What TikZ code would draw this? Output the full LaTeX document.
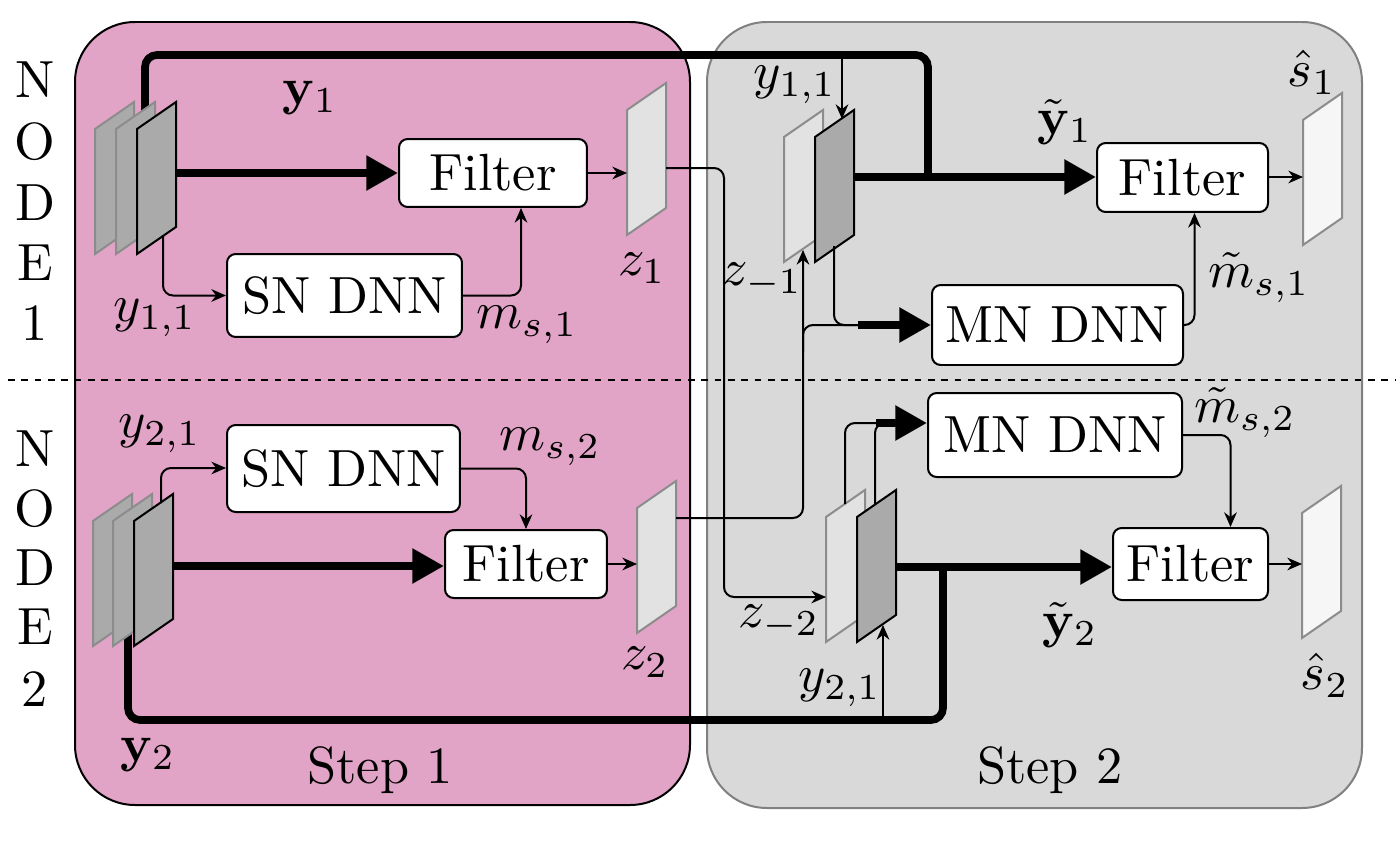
\documentclass[tikz,border=0pt]{standalone}
\usepackage{amsmath}
\usepackage{graphicx}
\usetikzlibrary{arrows.meta,calc}
\definecolor{pinkbg}{RGB}{226,164,198}
\definecolor{graybg}{RGB}{217,217,217}
\definecolor{grayedge}{RGB}{128,128,128}
\definecolor{sheetdark}{RGB}{170,170,170}
\definecolor{sheetlight}{RGB}{226,226,226}
\definecolor{sheetwhite}{RGB}{246,246,246}
\definecolor{sheetedge}{RGB}{140,140,140}
\newcommand\pgsheet[3]{% style, x, y of top-left corner
  \draw[#1] (#2,#3+125) -- (#2,#3) -- (#2+39,#3-27) -- (#2+39,#3+98) -- cycle;
}
\newcommand\tx[1]{\scalebox{1.57}{#1}}
\begin{document}
\begin{tikzpicture}[x=0.3pt,y=-0.3pt,
  font=\fontsize{10}{12}\selectfont,
  box/.style={draw, rounded corners=2.6pt, fill=white, line width=0.6pt, inner sep=0pt, align=center},
  thinarr/.style={line width=0.6pt, -{Stealth[length=4.4pt,width=3.8pt]}, rounded corners=3pt},
  thinln/.style={line width=0.6pt, rounded corners=3pt},
  thickln/.style={line width=2.3pt, rounded corners=3.6pt},
  thickarr/.style={line width=2.3pt, -{Triangle[length=9.5pt,width=10pt]}},
  lbl/.style={inner sep=0pt},
  darkback/.style={fill=sheetdark, draw=sheetedge, line width=0.6pt},
  darkfront/.style={fill=sheetdark, draw=black, line width=0.6pt},
  lightsheet/.style={fill=sheetlight, draw=sheetedge, line width=0.6pt},
  whitesheet/.style={fill=sheetwhite, draw=sheetedge, line width=0.6pt}]
\useasboundingbox (0,0) rectangle (1400,841);
% background panels
\draw[fill=pinkbg, draw=black, line width=0.6pt, rounded corners=18pt] (75,22) rectangle (690,805);
\draw[fill=graybg, draw=grayedge, line width=0.6pt, rounded corners=18pt] (707,22) rectangle (1362,808);
\draw[dashed, line width=0.5pt, dash pattern=on 2pt off 2pt] (8,380) -- (1395,380);
% side labels
\node[lbl] (n1a) at (35,80) {\tx{N}};
\node[lbl] (n1b) at (35,142) {\tx{O}};
\node[lbl] (n1c) at (35,203) {\tx{D}};
\node[lbl] (n1d) at (35,263) {\tx{E}};
\node[lbl] (n1e) at (35,323) {\tx{1}};
\node[lbl] (n2a) at (35,449) {\tx{N}};
\node[lbl] (n2b) at (35,509) {\tx{O}};
\node[lbl] (n2c) at (35,568) {\tx{D}};
\node[lbl] (n2d) at (35,627) {\tx{E}};
\node[lbl] (n2e) at (35,689) {\tx{2}};
% coordinates
\coordinate (loopAs) at (145,125);
\coordinate (loopAc1) at (145,55);
\coordinate (loopAc2) at (928,55);
\coordinate (loopAj) at (928,177);
\coordinate (loopBs) at (128,630);
\coordinate (loopBc1) at (128,720);
\coordinate (loopBc2) at (943,720);
\coordinate (loopBj) at (943,567);
% thick loops (under sheets)
\draw[thickln] (loopAs) -- (loopAc1) -- (loopAc2) -- (loopAj);
\draw[thickln] (loopBs) -- (loopBc1) -- (loopBc2) -- (loopBj);
% sheets step 1
\pgsheet{darkback}{95}{129}
\pgsheet{darkback}{116}{129}
\pgsheet{darkfront}{137}{129}
\pgsheet{darkback}{93}{521}
\pgsheet{darkback}{113}{521}
\pgsheet{darkfront}{134}{521}
\pgsheet{lightsheet}{627}{110}
\pgsheet{lightsheet}{637}{508}
% sheets step 2
\pgsheet{lightsheet}{784}{137}
\pgsheet{darkfront}{815}{137}
\pgsheet{lightsheet}{826}{517}
\pgsheet{darkfront}{857}{517}
\pgsheet{whitesheet}{1303}{120}
\pgsheet{whitesheet}{1302}{513}
% boxes
\node[box, minimum width=56.4pt, minimum height=20.4pt] (filA) at (493,173) {\tx{Filter}};
\node[box, minimum width=70.5pt, minimum height=24.9pt] (snA) at (344.5,295.5) {\tx{SN DNN}};
\node[box, minimum width=48.6pt, minimum height=20.4pt] (filB) at (526,564) {\tx{Filter}};
\node[box, minimum width=69.9pt, minimum height=26.1pt] (snB) at (343.5,468.5) {\tx{SN DNN}};
\node[box, minimum width=75.3pt, minimum height=24pt] (mnA) at (1057.5,325) {\tx{MN DNN}};
\node[box, minimum width=76.2pt, minimum height=25.2pt] (mnB) at (1055,435) {\tx{MN DNN}};
\node[box, minimum width=51.3pt, minimum height=20.7pt] (filC) at (1182.5,177.5) {\tx{Filter}};
\node[box, minimum width=46.5pt, minimum height=21.6pt] (filD) at (1190.5,564) {\tx{Filter}};
% sheet anchor coordinates
\coordinate (inAr) at (177,173);
\coordinate (inAb) at (163,235);
\coordinate (zAl) at (627,173);
\coordinate (zAr) at (666,168);
\coordinate (zAc1) at (724,168);
\coordinate (zAc2) at (724,597);
\coordinate (zmBl) at (826,597);
\coordinate (inBr) at (174,566);
\coordinate (inBt) at (161,503);
\coordinate (inBc) at (161,468);
\coordinate (zBl) at (637,564);
\coordinate (zBr) at (676,518);
\coordinate (zBc) at (803,518);
\coordinate (zmAb) at (803,250);
\coordinate (brA) at (803,352);
\coordinate (brAc) at (803,325);
\coordinate (brAe) at (864,325);
\coordinate (yAt) at (842,55);
\coordinate (yAb) at (842,119);
\coordinate (frAb) at (834,246);
\coordinate (frAc) at (834,325);
\coordinate (thA) at (858,325);
\coordinate (frAr) at (854,177);
\coordinate (shAl) at (1303,177);
\coordinate (yBb) at (883,720);
\coordinate (yBt) at (883,625);
\coordinate (bkBt) at (845,504);
\coordinate (bkBc) at (845,423);
\coordinate (bkBe) at (881,423);
\coordinate (frBt) at (875,505);
\coordinate (frBc) at (875,423);
\coordinate (thB) at (876,423);
\coordinate (frBr) at (896,567);
\coordinate (shBl) at (1302,564);
% connectors step 1
\draw[thickarr] (inAr) -- (filA.west |- inAr);
\draw[thinarr] (inAb) |- (snA.west);
\draw[thinarr] (snA.east) -| ($(filA.south)+(28,0)$);
\draw[thinarr] (filA.east) -- (zAl);
\draw[thinarr] (zAr) -- (zAc1) -- (zAc2) -- (zmBl);
\draw[thickarr] (inBr) -- (filB.west |- inBr);
\draw[thinarr] (inBt) -- (inBc) -- (snB.west |- inBc);
\draw[thinarr] (snB.east) -| (filB.north);
\draw[thinarr] (filB.east) -- (zBl);
% connectors step 2
\draw[thinarr] (zBr) -- (zBc) -- (zmAb);
\draw[thinln] (brA) -- (brAc) -- (brAe);
\draw[thinln] (frAb) -- (frAc) -- (brAe);
\draw[thickarr] (thA) -- (mnA.west |- thA);
\draw[thinarr] (yAt) -- (yAb);
\draw[thickarr] (frAr) -- (filC.west |- frAr);
\draw[thinarr] (mnA.east) -| ($(filC.south)+(12,0)$);
\draw[thinarr] (filC.east |- shAl) -- (shAl);
\draw[thinarr] (yBb) -- (yBt);
\draw[thinln] (bkBt) -- (bkBc) -- (bkBe);
\draw[thinln] (frBt) -- (frBc) -- (bkBe);
\draw[thickarr] (thB) -- (mnB.west |- thB);
\draw[thickarr] (frBr) -- (filD.west |- frBr);
\draw[thinarr] (mnB.east) -| ($(filD.north)+(40,0)$);
\draw[thinarr] (filD.east |- shBl) -- (shBl);
% labels
\node[lbl] (ly1) at (310,98) {\tx{$\mathbf{y}_1$}};
\node[lbl] (ly11a) at (155,318) {\tx{$y_{1,1}$}};
\node[lbl] (lms1) at (527,325) {\tx{$m_{s,1}$}};
\node[lbl] (lz1) at (642,268) {\tx{$z_1$}};
\node[lbl] (ly11b) at (795,85) {\tx{$y_{1,1}$}};
\node[lbl] (lzm1) at (762,280) {\tx{$z_{-1}$}};
\node[lbl] (lty1) at (1065,122) {\tx{$\tilde{\mathbf{y}}_1$}};
\node[lbl] (ltms1) at (1259,278) {\tx{$\tilde{m}_{s,1}$}};
\node[lbl] (lsh1) at (1312,72) {\tx{$\hat{s}_1$}};
\node[lbl] (ly21a) at (160,434) {\tx{$y_{2,1}$}};
\node[lbl] (lms2) at (550,447) {\tx{$m_{s,2}$}};
\node[lbl] (lz2) at (645,662) {\tx{$z_2$}};
\node[lbl] (lzm2) at (779,622) {\tx{$z_{-2}$}};
\node[lbl] (ly21b) at (840,688) {\tx{$y_{2,1}$}};
\node[lbl] (lty2) at (1070,625) {\tx{$\tilde{\mathbf{y}}_2$}};
\node[lbl] (ltms2) at (1245,413) {\tx{$\tilde{m}_{s,2}$}};
\node[lbl] (lsh2) at (1325,675) {\tx{$\hat{s}_2$}};
\node[lbl] (ly2) at (148,755) {\tx{$\mathbf{y}_2$}};
\node[lbl] (step1) at (380,770) {\tx{Step 1}};
\node[lbl] (step2) at (1050,770) {\tx{Step 2}};
\end{tikzpicture}
\end{document}
